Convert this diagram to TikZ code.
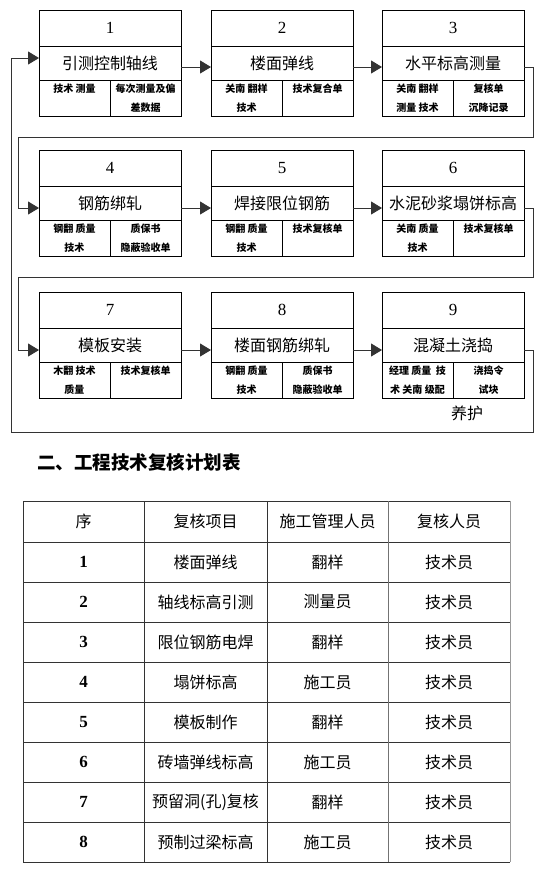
\documentclass[tikz,border=0pt]{standalone}
\usepackage{fontspec}
\setmainfont{Liberation Serif}
\newfontfamily\cjk{Noto Sans CJK SC}
\usetikzlibrary{arrows.meta}
\tikzset{
  numcell/.style={draw, line width=0.8pt, minimum width=142pt, minimum height=36pt, inner sep=0pt, outer sep=0pt, anchor=north west, font=\fontsize{17}{17}\selectfont},
  titlecell/.style={draw, line width=0.8pt, minimum width=142pt, minimum height=34pt, inner sep=0pt, outer sep=0pt, anchor=north west, font=\cjk\fontsize{16}{16}\selectfont},
  subcell/.style={draw, line width=0.8pt, minimum width=71pt, minimum height=36pt, inner sep=0pt, outer sep=0pt, anchor=north west},
  subtext/.style={anchor=north, inner sep=0pt, align=center, font=\cjk\bfseries\fontsize{10}{19}\selectfont},
  conn/.style={draw=black!80, line width=0.9pt},
  arr/.style={conn, -{Triangle[length=11pt,width=13pt]}},
  tline/.style={draw=black!80, line width=1pt},
  tcjk/.style={font=\cjk\fontsize{16}{16}\selectfont, inner sep=0pt},
  tnum/.style={font=\bfseries\fontsize{17}{17}\selectfont, inner sep=0pt},
}
\newcommand{\procbox}[7]{%
  \node[numcell] (n#1) at (#2,#3) {#4};
  \node[titlecell] (t#1) at (n#1.south west) {#5};
  \node[subcell] (l#1) at (t#1.south west) {};
  \node[subcell] (r#1) at (l#1.north east) {};
  \node[subtext] (lt#1) at ([yshift=-4pt]l#1.north) {#6};
  \node[subtext] (rt#1) at ([yshift=-4pt]r#1.north) {#7};
}
\begin{document}
\begin{tikzpicture}[x=1pt,y=-1pt]
\useasboundingbox (0,0) rectangle (554,879);
% row 1
\procbox{1}{39}{10}{1}{引测控制轴线}{技术 测量}{每次测量及偏\\差数据}
\procbox{2}{211}{10}{2}{楼面弹线}{关南 翻样\\技术}{技术复合单}
\procbox{3}{382}{10}{3}{水平标高测量}{关南 翻样\\测量 技术}{复核单\\沉降记录}
% row 2
\procbox{4}{39}{150}{4}{钢筋绑轧}{钢翻 质量\\技术}{质保书\\隐蔽验收单}
\procbox{5}{211}{150}{5}{焊接限位钢筋}{钢翻 质量\\技术}{技术复核单}
\procbox{6}{382}{150}{6}{水泥砂浆塌饼标高}{关南 质量\\技术}{技术复核单}
% row 3
\procbox{7}{39}{292}{7}{模板安装}{木翻 技术\\质量}{技术复核单}
\procbox{8}{211}{292}{8}{楼面钢筋绑轧}{钢翻 质量\\技术}{质保书\\隐蔽验收单}
\procbox{9}{382}{292}{9}{混凝土浇捣}{经理 质量 \ 技\\术 关南 级配}{浇捣令\\试块}
\node[font=\cjk\fontsize{16}{16}\selectfont, inner sep=0pt] (yh) at (467,413) {养护};
% connectors
\draw[arr] ([yshift=-4pt]t1.east) -- ([yshift=-4pt]t2.west);
\draw[arr] ([yshift=-4pt]t2.east) -- ([yshift=-4pt]t3.west);
\draw[arr] ([yshift=-5pt]t4.east) -- ([yshift=-5pt]t5.west);
\draw[arr] ([yshift=-5pt]t5.east) -- ([yshift=-5pt]t6.west);
\draw[arr] ([yshift=-5pt]t7.east) -- ([yshift=-5pt]t8.west);
\draw[arr] ([yshift=-5pt]t8.east) -- ([yshift=-5pt]t9.west);
\draw[arr] ([yshift=-4pt]t3.east) -- ++(9,0) |- (18,137) |- ([yshift=-5pt]t4.west);
\draw[arr] ([yshift=-5pt]t6.east) -- ++(9,0) |- (18,277) |- ([yshift=-5pt]t7.west);
\draw[arr] ([yshift=-5pt]t9.east) -- ++(9,0) |- (11,432) |- ([yshift=5pt]t1.west);
% table title
\node[anchor=west, inner sep=0pt, font=\cjk\bfseries\fontsize{18.5}{18.5}\selectfont] (ttl) at (37,462) {二、工程技术复核计划表};
% table grid
\foreach \yy in {501,542,582,622,662,702,742,782,822,862}
  \draw[tline] (23,\yy) -- (510,\yy);
\foreach \xx in {23,144,267}
  \draw[tline] (\xx,501) -- (\xx,862);
\draw[draw=black!55, line width=1pt] (388,501) -- (388,862);
\draw[draw=black!40, line width=1pt] (510,501) -- (510,862);
% header
\node[tcjk] (h1) at (83.5,521.5) {序};
\node[tcjk] (h2) at (205.5,521.5) {复核项目};
\node[tcjk] (h3) at (327.5,521.5) {施工管理人员};
\node[tcjk] (h4) at (449,521.5) {复核人员};
\foreach \i/\item/\mgr [evaluate=\i as \yc using 522+40*\i] in
  {1/楼面弹线/翻样, 2/轴线标高引测/测量员, 3/限位钢筋电焊/翻样, 4/塌饼标高/施工员,
   5/模板制作/翻样, 6/砖墙弹线标高/施工员, 7/预留洞(孔)复核/翻样, 8/预制过梁标高/施工员}{
  \node[tnum] (c\i a) at (83.5,\yc) {\i};
  \node[tcjk] (c\i b) at (205.5,\yc) {\item};
  \node[tcjk] (c\i c) at (327.5,\yc) {\mgr};
  \node[tcjk] (c\i d) at (449,\yc) {技术员};
}
\end{tikzpicture}
\end{document}
